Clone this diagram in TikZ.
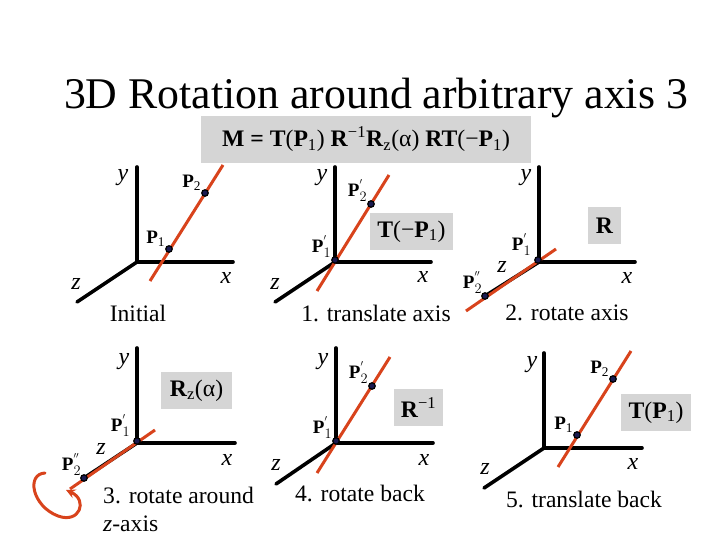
\documentclass[tikz,border=0pt]{standalone}
\usepackage{fontspec}
\setmainfont{Liberation Serif}
\usetikzlibrary{positioning}

\begin{document}
\begin{tikzpicture}[
    x=1pt, y=-1pt,
    node distance=2pt,
    box/.style={
        rectangle, fill=boxgray, inner sep=0pt, font=\fontsize{23.7}{26}\selectfont
    },
    axis/.style={line width=3.6pt, line cap=round},
    rotaxis/.style={line width=3pt, draw=axisred},
    dot/.style={
        circle, draw=black, fill=dotblue, line width=1.2pt,
        inner sep=0pt, minimum size=6.5pt
    },
    axislabel/.style={font=\fontsize{24}{26}\selectfont\itshape, inner sep=0pt},
    pointlabel/.style={font=\fontsize{19}{21}\selectfont, inner sep=0pt},
    caption/.style={font=\fontsize{23.6}{26}\selectfont, inner sep=0pt}
]
\definecolor{boxgray}{HTML}{D5D5D5}
\definecolor{axisred}{HTML}{D8431C}
\definecolor{dotblue}{HTML}{1A1A50}
\useasboundingbox (0,0) rectangle (720,540);

%% Title and matrix
\node (title) [inner sep=0pt, font=\fontsize{43.8}{47}\selectfont] at (376,98)
    {3D Rotation around arbitrary axis 3};
\node (matrix) [box, minimum width=330pt, minimum height=47pt] at (366,139.5)
    {\textbf{M = T}(\textbf{P}\textsubscript{1}) \textbf{R}\textsuperscript{−1}\textbf{R}\textsubscript{z}(α) \textbf{RT}(−\textbf{P}\textsubscript{1})};

%% Step boxes
\node (boxT)  [box, minimum width=83pt, minimum height=37pt] at (411.5,231.5) {\textbf{T}(−\textbf{P}\textsubscript{1})};
\node (boxR)  [box, minimum width=33pt, minimum height=37pt] at (604.5,225.5) {\textbf{R}};
\node (boxRz) [box, minimum width=71pt, minimum height=37pt] at (196.5,390.5) {\textbf{R}\textsubscript{z}(α)};
\node (boxRi) [box, minimum width=49pt, minimum height=37pt] at (418.5,407.5) {\textbf{R}\textsuperscript{−1}};
\node (boxTp) [box, minimum width=70pt, minimum height=37pt] at (656,412.5) {\textbf{T}(\textbf{P}\textsubscript{1})};

%% Initial
\coordinate (oA) at (137,262);
\coordinate (yA) at (137,167);
\coordinate (xA) at (233,262);
\coordinate (zA) at (77,302);
\coordinate (aA) at (150,281);
\coordinate (bA) at (223,165);
\draw [axis] (yA) -- (oA) -- (xA);
\draw [axis] (oA) -- (zA);
\draw [rotaxis] (aA) -- (bA);
\node (p1A) [dot] at (169,249) {};
\node (p2A) [dot] at (205,193) {};
\node (lp1A) [pointlabel, above left=0pt and 1pt of p1A] {\textbf{P}\textsubscript{1}};
\node (lp2A) [pointlabel, above left=0pt and 1pt of p2A] {\textbf{P}\textsubscript{2}};
\node (lyA) [axislabel] at (123,178) {y};
\node (lxA) [axislabel] at (226,278) {x};
\node (lzA) [axislabel] at (76,284) {z};
\node (capA) [caption] at (138,313) {Initial};

%% 1. translate axis
\coordinate (oB) at (335,262);
\coordinate (yB) at (335,167);
\coordinate (xB) at (431,262);
\coordinate (zB) at (275,302);
\coordinate (aB) at (317,291);
\coordinate (bB) at (389,175);
\draw [axis] (yB) -- (oB) -- (xB);
\draw [axis] (oB) -- (zB);
\draw [rotaxis] (aB) -- (bB);
\node (p1B) [dot] at (335,260) {};
\node (p2B) [dot] at (371,204) {};
\node (lp1B) [pointlabel, above left=0pt and 1pt of p1B] {\textbf{P}$^{'}_{1}$};
\node (lp2B) [pointlabel, above left=0pt and 1pt of p2B] {\textbf{P}$^{'}_{2}$};
\node (lyB) [axislabel] at (322,178) {y};
\node (lxB) [axislabel] at (423,277) {x};
\node (lzB) [axislabel] at (275,284) {z};
\node (capB) [caption] at (376,313) {1. translate axis};

%% 2. rotate axis
\coordinate (oC) at (539,262);
\coordinate (yC) at (539,167);
\coordinate (xC) at (635,262);
\coordinate (zC) at (485,296);
\coordinate (aC) at (466,311);
\coordinate (bC) at (556,249);
\draw [axis] (yC) -- (oC) -- (xC);
\draw [axis] (oC) -- (zC);
\draw [rotaxis] (aC) -- (bC);
\node (p1C) [dot] at (538,260) {};
\node (p2C) [dot] at (485,296) {};
\node (lp1C) [pointlabel, above left=2pt and 4pt of p1C] {\textbf{P}$^{'}_{1}$};
\node (lp2C) [pointlabel, above left=0pt and 0pt of p2C] {\textbf{P}$^{''}_{2}$};
\node (lyC) [axislabel] at (526,178) {y};
\node (lxC) [axislabel] at (627,278) {x};
\node (lzC) [axislabel] at (502,267) {z};
\node (capC) [caption] at (567,313) {2. rotate axis};

%% 3. rotate around z-axis
\coordinate (oD) at (137,443);
\coordinate (yD) at (137,348);
\coordinate (xD) at (235,443);
\coordinate (zD) at (84,478);
\coordinate (aD) at (70,489);
\coordinate (bD) at (155,430);
\coordinate (tailD) at (45,473);
\coordinate (headD) at (66,490);
\draw [axis] (yD) -- (oD) -- (xD);
\draw [axis] (oD) -- (zD);
\draw [rotaxis] (aD) -- (bD);
\draw [rotaxis, line cap=round, ->, >=stealth] (tailD)
    .. controls (26,474) and (32,506) .. (58,516)
    .. controls (80,524) and (88,500) .. (headD);
\node (p1D) [dot] at (137,441) {};
\node (p2D) [dot] at (84,478) {};
\node (lp1D) [pointlabel, above left=2pt and 4pt of p1D] {\textbf{P}$^{'}_{1}$};
\node (lp2D) [pointlabel, above left=0pt and 0pt of p2D] {\textbf{P}$^{''}_{2}$};
\node (lyD) [axislabel] at (124,362) {y};
\node (lxD) [axislabel] at (227,460) {x};
\node (lzD) [axislabel] at (101,449) {z};
\node (capD) [caption, anchor=west] at (103,495) {3. rotate around};
\node (capDz) [caption, anchor=west] at (103,524) {\textit{z}-axis};

%% 4. rotate back
\coordinate (oE) at (336,443);
\coordinate (yE) at (336,348);
\coordinate (xE) at (433,443);
\coordinate (zE) at (276,484);
\coordinate (aE) at (317,473);
\coordinate (bE) at (390,357);
\draw [axis] (yE) -- (oE) -- (xE);
\draw [axis] (oE) -- (zE);
\draw [rotaxis] (aE) -- (bE);
\node (p1E) [dot] at (336,441) {};
\node (p2E) [dot] at (372,386) {};
\node (lp1E) [pointlabel, above left=0pt and 1pt of p1E] {\textbf{P}$^{'}_{1}$};
\node (lp2E) [pointlabel, above left=0pt and 1pt of p2E] {\textbf{P}$^{'}_{2}$};
\node (lyE) [axislabel] at (323,362) {y};
\node (lxE) [axislabel] at (424,460) {x};
\node (lzE) [axislabel] at (276,465) {z};
\node (capE) [caption] at (360,493) {4. rotate back};

%% 5. translate back
\coordinate (oF) at (544,448);
\coordinate (yF) at (544,353);
\coordinate (xF) at (642,448);
\coordinate (zF) at (484,488);
\coordinate (aF) at (558,467);
\coordinate (bF) at (631,351);
\draw [axis] (yF) -- (oF) -- (xF);
\draw [axis] (oF) -- (zF);
\draw [rotaxis] (aF) -- (bF);
\node (p1F) [dot] at (577,435) {};
\node (p2F) [dot] at (613,379) {};
\node (lp1F) [pointlabel, above left=0pt and 1pt of p1F] {\textbf{P}\textsubscript{1}};
\node (lp2F) [pointlabel, above left=0pt and 1pt of p2F] {\textbf{P}\textsubscript{2}};
\node (lyF) [axislabel] at (532,365) {y};
\node (lxF) [axislabel] at (633,464) {x};
\node (lzF) [axislabel] at (485,469) {z};
\node (capF) [caption] at (584,499) {5. translate back};

\end{tikzpicture}
\end{document}
